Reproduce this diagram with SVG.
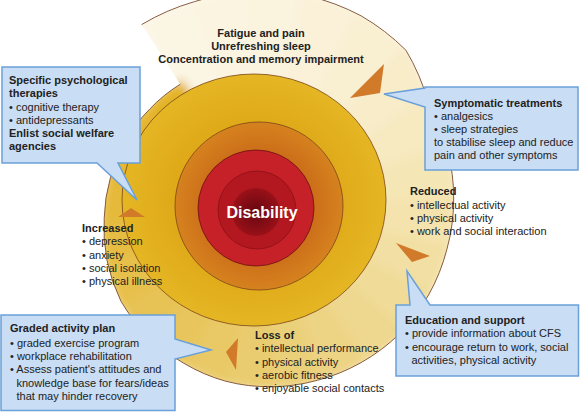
<svg xmlns="http://www.w3.org/2000/svg" width="580" height="412" viewBox="0 0 580 412">
<defs>
<style>
.t{font-family:"Liberation Sans",Arial,Helvetica,sans-serif;font-size:11px;fill:#222}
.b{font-weight:bold}
.box{fill:#C9DDF4;stroke:#6AA0D9;stroke-width:1.5}
.arrow{fill:#D07A2A}
.ring{stroke:#7A4518;stroke-width:0.8}
.w{stroke-width:8;stroke-linejoin:round}
</style>
<radialGradient id="gGold" cx="0.5" cy="0.5" r="0.5">
<stop offset="0.6" stop-color="#DFA918"/>
<stop offset="1" stop-color="#E5B624"/>
</radialGradient>
<radialGradient id="gOrange" cx="0.5" cy="0.5" r="0.5">
<stop offset="0.65" stop-color="#CB6E19"/>
<stop offset="1" stop-color="#D6821F"/>
</radialGradient>
<radialGradient id="gCore" cx="0.5" cy="0.5" r="0.5">
<stop offset="0" stop-color="#650710"/>
<stop offset="1" stop-color="#9A1119"/>
</radialGradient>
<clipPath id="spiralClip">
<path d="M141.6,24.6 A220,220 0 0 1 194.3,1.7 A219,219 0 0 1 250.5,-8.7 A219,219 0 0 1 307.5,-4.2 A218.5,218.5 0 0 1 361,15.8 A216.5,216.5 0 0 1 405.9,50.2 A206.5,206.5 0 0 1 428.1,102.2 A196.5,196.5 0 0 1 447.5,149.7 A193.5,193.5 0 0 1 453.7,200 A190.5,190.5 0 0 1 446.9,249.3 A188,188 0 0 1 428.6,294.9 A186,186 0 0 1 399.5,333.8 A183.5,183.5 0 0 1 361.1,362.6 A180.5,180.5 0 0 1 317.3,380.3 A178,178 0 0 1 271.3,386.8 A176,176 0 0 1 225.6,381.2 A173.5,173.5 0 0 1 183.9,363.3 A171,171 0 0 1 148.3,336.3 A169,169 0 0 1 121.1,301.5 A165.5,165.5 0 0 1 107,260.4 A160.5,160.5 0 0 1 104.2,218.3 A156.5,156.5 0 0 1 110.4,177.8 A154,154 0 0 1 125.7,140.5 A152,152 0 0 1 149.8,109 A150.5,150.5 0 0 1 180.3,84.2 Z"/>
</clipPath>
<filter id="soft" filterUnits="userSpaceOnUse" x="0" y="-30" width="580" height="450">
<feGaussianBlur stdDeviation="5"/>
</filter>
</defs>
<rect width="580" height="412" fill="#FFFFFF"/>

<g id="spiral">
<g clip-path="url(#spiralClip)">
<g filter="url(#soft)">
<path class="w" fill="#FBF5E4" stroke="#FBF5E4" d="M262,210 L141.6,24.6 A220,220 0 0 1 194.3,1.7 A219,219 0 0 1 250.5,-8.7 Z"/>
<path class="w" fill="#FBF4E1" stroke="#FBF4E1" d="M262,210 L194.3,1.7 A219,219 0 0 1 250.5,-8.7 A219,219 0 0 1 307.5,-4.2 Z"/>
<path class="w" fill="#FAF3DD" stroke="#FAF3DD" d="M262,210 L250.5,-8.7 A219,219 0 0 1 307.5,-4.2 A218.5,218.5 0 0 1 361,15.8 Z"/>
<path class="w" fill="#FAF1D8" stroke="#FAF1D8" d="M262,210 L307.5,-4.2 A218.5,218.5 0 0 1 361,15.8 A216.5,216.5 0 0 1 405.9,50.2 Z"/>
<path class="w" fill="#F9EFD1" stroke="#F9EFD1" d="M262,210 L361,15.8 A216.5,216.5 0 0 1 405.9,50.2 A206.5,206.5 0 0 1 428.1,102.2 Z"/>
<path class="w" fill="#F8ECC9" stroke="#F8ECC9" d="M262,210 L405.9,50.2 A206.5,206.5 0 0 1 428.1,102.2 A196.5,196.5 0 0 1 447.5,149.7 Z"/>
<path class="w" fill="#F7E9C0" stroke="#F7E9C0" d="M262,210 L428.1,102.2 A196.5,196.5 0 0 1 447.5,149.7 A193.5,193.5 0 0 1 453.7,200 Z"/>
<path class="w" fill="#F5E6B6" stroke="#F5E6B6" d="M262,210 L447.5,149.7 A193.5,193.5 0 0 1 453.7,200 A190.5,190.5 0 0 1 446.9,249.3 Z"/>
<path class="w" fill="#F4E3AD" stroke="#F4E3AD" d="M262,210 L453.7,200 A190.5,190.5 0 0 1 446.9,249.3 A188,188 0 0 1 428.6,294.9 Z"/>
<path class="w" fill="#F2DFA3" stroke="#F2DFA3" d="M262,210 L446.9,249.3 A188,188 0 0 1 428.6,294.9 A186,186 0 0 1 399.5,333.8 Z"/>
<path class="w" fill="#F0DB98" stroke="#F0DB98" d="M262,210 L428.6,294.9 A186,186 0 0 1 399.5,333.8 A183.5,183.5 0 0 1 361.1,362.6 Z"/>
<path class="w" fill="#EED78E" stroke="#EED78E" d="M262,210 L399.5,333.8 A183.5,183.5 0 0 1 361.1,362.6 A180.5,180.5 0 0 1 317.3,380.3 Z"/>
<path class="w" fill="#EDD384" stroke="#EDD384" d="M262,210 L361.1,362.6 A180.5,180.5 0 0 1 317.3,380.3 A178,178 0 0 1 271.3,386.8 Z"/>
<path class="w" fill="#EBD07A" stroke="#EBD07A" d="M262,210 L317.3,380.3 A178,178 0 0 1 271.3,386.8 A176,176 0 0 1 225.6,381.2 Z"/>
<path class="w" fill="#EACC70" stroke="#EACC70" d="M262,210 L271.3,386.8 A176,176 0 0 1 225.6,381.2 A173.5,173.5 0 0 1 183.9,363.3 Z"/>
<path class="w" fill="#E9C966" stroke="#E9C966" d="M262,210 L225.6,381.2 A173.5,173.5 0 0 1 183.9,363.3 A171,171 0 0 1 148.3,336.3 Z"/>
<path class="w" fill="#E8C65D" stroke="#E8C65D" d="M262,210 L183.9,363.3 A171,171 0 0 1 148.3,336.3 A169,169 0 0 1 121.1,301.5 Z"/>
<path class="w" fill="#E7C354" stroke="#E7C354" d="M262,210 L148.3,336.3 A169,169 0 0 1 121.1,301.5 A165.5,165.5 0 0 1 107,260.4 Z"/>
<path class="w" fill="#E7C04B" stroke="#E7C04B" d="M262,210 L121.1,301.5 A165.5,165.5 0 0 1 107,260.4 A160.5,160.5 0 0 1 104.2,218.3 Z"/>
<path class="w" fill="#E6BD43" stroke="#E6BD43" d="M262,210 L107,260.4 A160.5,160.5 0 0 1 104.2,218.3 A156.5,156.5 0 0 1 110.4,177.8 Z"/>
<path class="w" fill="#E5BA3B" stroke="#E5BA3B" d="M262,210 L104.2,218.3 A156.5,156.5 0 0 1 110.4,177.8 A154,154 0 0 1 125.7,140.5 Z"/>
<path class="w" fill="#E5B833" stroke="#E5B833" d="M262,210 L110.4,177.8 A154,154 0 0 1 125.7,140.5 A152,152 0 0 1 149.8,109 Z"/>
<path class="w" fill="#E4B52D" stroke="#E4B52D" d="M262,210 L125.7,140.5 A152,152 0 0 1 149.8,109 A150.5,150.5 0 0 1 180.3,84.2 Z"/>
<path fill="#E3B328" d="M262,210 L149.8,109 A150.5,150.5 0 0 1 180.3,84.2 Z"/>
</g>
</g>
<path fill="none" stroke="#7B4B2B" stroke-width="0.9" d="M141.6,24.6 A220,220 0 0 1 194.3,1.7 A219,219 0 0 1 250.5,-8.7 A219,219 0 0 1 307.5,-4.2 A218.5,218.5 0 0 1 361,15.8 A216.5,216.5 0 0 1 405.9,50.2 A206.5,206.5 0 0 1 428.1,102.2 A196.5,196.5 0 0 1 447.5,149.7 A193.5,193.5 0 0 1 453.7,200 A190.5,190.5 0 0 1 446.9,249.3 A188,188 0 0 1 428.6,294.9 A186,186 0 0 1 399.5,333.8 A183.5,183.5 0 0 1 361.1,362.6 A180.5,180.5 0 0 1 317.3,380.3 A178,178 0 0 1 271.3,386.8 A176,176 0 0 1 225.6,381.2 A173.5,173.5 0 0 1 183.9,363.3 A171,171 0 0 1 148.3,336.3 A169,169 0 0 1 121.1,301.5 A165.5,165.5 0 0 1 107,260.4 A160.5,160.5 0 0 1 104.2,218.3 A156.5,156.5 0 0 1 110.4,177.8 A154,154 0 0 1 125.7,140.5 A152,152 0 0 1 149.8,109 A150.5,150.5 0 0 1 180.3,84.2"/>
</g>

<g id="core">
<ellipse cx="254" cy="200" rx="132" ry="126" fill="url(#gGold)" class="ring"/>
<circle cx="259" cy="206" r="84" fill="url(#gOrange)" class="ring"/>
<circle cx="256" cy="208" r="58" fill="#C62129" stroke="#6A1010" stroke-width="0.8"/>
<circle cx="257" cy="210" r="39" fill="#B3171F" stroke="#7A0E14" stroke-width="0.6"/>
<circle cx="256" cy="212" r="24" fill="url(#gCore)"/>
<text x="262" y="218" text-anchor="middle" class="t b" style="font-size:16px;fill:#FFFFFF">Disability</text>
</g>

<g id="connectors">
<polygon class="arrow" points="350,98 384,64 380,93"/>
<polygon class="arrow" points="396,243 430,256 412,262"/>
<polygon class="arrow" points="118,217 131,208 145,217"/>
<polygon class="arrow" points="238,338 226,352 236,370"/>
</g>

<g id="symptoms">
<text class="t b" text-anchor="middle" x="261" y="37">Fatigue and pain</text>
<text class="t b" text-anchor="middle" x="261" y="50">Unrefreshing sleep</text>
<text class="t b" text-anchor="middle" x="261" y="63">Concentration and memory impairment</text>
</g>

<g id="reduced">
<text class="t b" x="410" y="195">Reduced</text>
<text class="t" x="410" y="208.5">• intellectual activity</text>
<text class="t" x="410" y="221.5">• physical activity</text>
<text class="t" x="410" y="235">• work and social interaction</text>
</g>

<g id="increased">
<text class="t b" x="82" y="232">Increased</text>
<text class="t" x="82" y="245">• depression</text>
<text class="t" x="82" y="258.5">• anxiety</text>
<text class="t" x="82" y="272">• social isolation</text>
<text class="t" x="82" y="285">• physical illness</text>
</g>

<g id="loss">
<text class="t b" x="255" y="339">Loss of</text>
<text class="t" x="255" y="352.3">• intellectual performance</text>
<text class="t" x="255" y="365.6">• physical activity</text>
<text class="t" x="255" y="379">• aerobic fitness</text>
<text class="t" x="255" y="392.3">• enjoyable social contacts</text>
</g>

<g id="psychological">
<path class="box" d="M2,67 H140 V163 H118 L137,200 L97,163 H2 Z"/>
<text class="t b" x="9" y="84">Specific psychological</text>
<text class="t b" x="9" y="97">therapies</text>
<text class="t" x="9" y="110.5">• cognitive therapy</text>
<text class="t" x="9" y="123.5">• antidepressants</text>
<text class="t b" x="9" y="137">Enlist social welfare</text>
<text class="t b" x="9" y="150">agencies</text>
</g>

<g id="symptomatic">
<path class="box" d="M425,87 H578 V170 H425 V107 L384,94 L425,88 Z"/>
<text class="t b" x="434" y="106.5">Symptomatic treatments</text>
<text class="t" x="434" y="120">• analgesics</text>
<text class="t" x="434" y="133">• sleep strategies</text>
<text class="t" x="434" y="146">to stabilise sleep and reduce</text>
<text class="t" x="434" y="159.3">pain and other symptoms</text>
</g>

<g id="education">
<path class="box" d="M396,305 H410 L407,271 L430,305 H578.5 V376 H396 Z"/>
<text class="t b" x="405" y="324">Education and support</text>
<text class="t" x="405" y="337.3">• provide information about CFS</text>
<text class="t" x="405" y="350.7">• encourage return to work, social</text>
<text class="t" x="411.5" y="363.5">activities, physical activity</text>
</g>

<g id="graded">
<path class="box" d="M1,315 H175 V339 L211,350 L175,359 V410.5 H1 Z"/>
<text class="t b" x="10" y="332.3">Graded activity plan</text>
<text class="t" x="10" y="346.7">• graded exercise program</text>
<text class="t" x="10" y="360">• workplace rehabilitation</text>
<text class="t" x="10" y="373.3">• Assess patient's attitudes and</text>
<text class="t" x="16.5" y="386.7">knowledge base for fears/ideas</text>
<text class="t" x="16.5" y="400">that may hinder recovery</text>
</g>
</svg>
